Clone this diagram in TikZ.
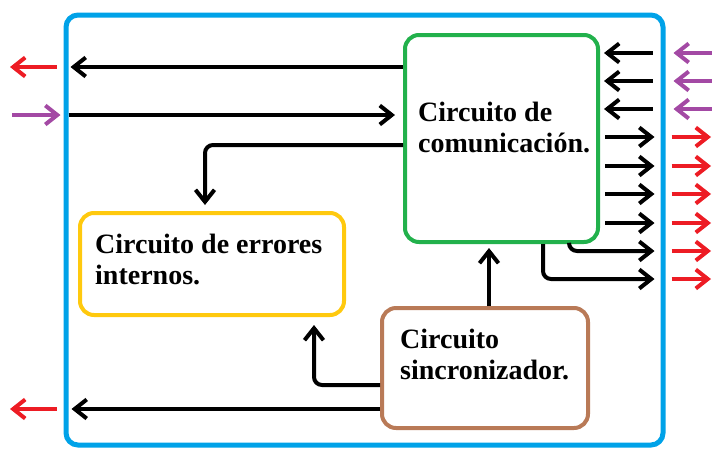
\documentclass[tikz,border=0pt]{standalone}
\usepackage{fontspec}
\setmainfont{Liberation Serif}
\usepackage{tikz}
\usetikzlibrary{positioning}
\usetikzlibrary{arrows.meta}
\usepackage{xcolor}
\definecolor{marco}{HTML}{00A2E8}
\definecolor{verde}{HTML}{22B14C}
\definecolor{amarillo}{HTML}{FFC90E}
\definecolor{cafe}{HTML}{B97A57}
\definecolor{rojo}{HTML}{ED1C24}
\definecolor{morado}{HTML}{A349A4}

\begin{document}
\begin{tikzpicture}[x=1pt,y=-1pt,
    caja/.style={draw, line width=4pt, rounded corners=14pt, inner sep=0pt},
    texto/.style={anchor=north west, align=left, inner sep=0pt,
        font=\fontsize{28}{31}\selectfont\bfseries},
    flecha/.style={line width=4pt, -{Straight Barb[length=12pt,width=19pt]}},
    curva/.style={flecha, rounded corners=8pt}]
    \useasboundingbox (0,0) rectangle (712,448);

    % Outer frame and blocks
    \node[caja, draw=marco, line width=5pt, rounded corners=12pt,
        minimum width=597pt, minimum height=430pt] (sistema) at (364.5,230) {};
    \node[caja, draw=verde, minimum width=193pt, minimum height=207pt] (com) at (501.5,138.5) {};
    \node[caja, draw=amarillo, minimum width=264pt, minimum height=102pt] (err) at (212,264) {};
    \node[caja, draw=cafe, minimum width=206pt, minimum height=120pt] (sinc) at (485,368) {};

    % Block texts
    \node[texto] (comtxt) at (418,102) {Circuito de\\comunicación.};
    \node[texto] (errtxt) at (95,234) {Circuito de errores\\internos.};
    \node[texto] (sinctxt) at (400,329) {Circuito\\sincronizador.};

    % Inner connectors, left side
    \draw[flecha] (com.west |- 0,67) -- ([xshift=7pt]sistema.west |- 0,67);
    \draw[flecha] ([xshift=5pt]sistema.west |- 0,115) -- ([xshift=-8pt]com.west |- 0,115);
    \draw[curva, shorten >=6pt] (com.west |- 0,145) -| ([xshift=-7pt]err.north);
    \draw[flecha, shorten >=4pt] (489,0 |- sinc.north) -- (489,0 |- com.south);
    \draw[curva, shorten >=8pt] (sinc.west |- 0,385) -| (314,0 |- err.south);
    \draw[flecha] (sinc.west |- 0,409) -- ([xshift=8pt]sistema.west |- 0,409);

    % Inner connectors, right side
    \foreach \y in {53,81,109} {
        \draw[flecha] ([xshift=-13pt]sistema.east |- 0,\y) -- ([xshift=4pt]com.east |- 0,\y);
    }
    \foreach \y in {137,166,194,223} {
        \draw[flecha] ([xshift=5pt]com.east |- 0,\y) -- ([xshift=-11pt]sistema.east |- 0,\y);
    }
    \draw[curva] (569,0 |- com.south) |- ([xshift=-11pt]sistema.east |- 0,251);
    \draw[curva] (543,0 |- com.south) |- ([xshift=-11pt]sistema.east |- 0,279);

    % Outside signals
    \draw[flecha, rojo] ([xshift=-7pt]sistema.west |- 0,67) -- (10,67);
    \draw[flecha, morado] (12,115) -- ([xshift=-3pt]sistema.west |- 0,115);
    \draw[flecha, rojo] ([xshift=-7pt]sistema.west |- 0,409) -- (10,409);
    \foreach \y in {53,81,109} {
        \draw[flecha, morado] (712,\y) -- ([xshift=8pt]sistema.east |- 0,\y);
    }
    \foreach \y in {137,166,194,223,251,279} {
        \draw[flecha, rojo] ([xshift=6pt]sistema.east |- 0,\y) -- (711,\y);
    }
\end{tikzpicture}
\end{document}
